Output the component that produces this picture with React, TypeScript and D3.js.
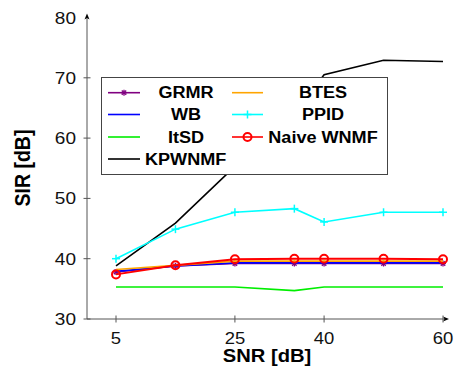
import React from "react";
import * as d3 from "d3";

const snr = [5, 15, 25, 35, 40, 50, 60];
const xTicks = [5, 25, 40, 60];
const yTicks = [30, 40, 50, 60, 70, 80];

const grmr = [37.8, 38.8, 39.2, 39.2, 39.2, 39.2, 39.2];
const wb = [37.9, 38.8, 39.3, 39.3, 39.3, 39.3, 39.3];
const itsd = [35.3, 35.3, 35.3, 34.7, 35.3, 35.3, 35.3];
const kpwnmf = [38.8, 45.9, 55.3, 64.0, 70.5, 72.9, 72.7];
const btes = [38.2, 38.9, 39.6, 39.6, 39.6, 39.6, 39.6];
const ppid = [40.0, 44.9, 47.7, 48.3, 46.1, 47.7, 47.7];
const naive = [37.4, 38.9, 39.9, 40.0, 40.0, 40.0, 39.9];

type S = { name: string; values: number[]; color: string; marker: string };
const series: S[] = [
  { name: "GRMR", values: grmr, color: "#800080", marker: "star" },
  { name: "WB", values: wb, color: "#0000ff", marker: "none" },
  { name: "ItSD", values: itsd, color: "#00ee00", marker: "none" },
  { name: "KPWNMF", values: kpwnmf, color: "#000000", marker: "none" },
  { name: "BTES", values: btes, color: "#ffa500", marker: "none" },
  { name: "PPID", values: ppid, color: "#00ffff", marker: "plus" },
  { name: "Naive WNMF", values: naive, color: "#ff0000", marker: "circle" },
];

const legendOrder = ["GRMR", "BTES", "WB", "PPID", "ItSD", "Naive WNMF", "KPWNMF"];

const Marker = ({ x, y, type, color }: { x: number; y: number; type: string; color: string }) => {
  if (type === "circle")
    return <circle cx={x} cy={y} r={4} fill="none" stroke={color} strokeWidth={2} />;
  if (type === "plus")
    return (
      <g stroke={color} strokeWidth={1.5}>
        <line x1={x - 4} y1={y} x2={x + 4} y2={y} />
        <line x1={x} y1={y - 4} x2={x} y2={y + 4} />
      </g>
    );
  if (type === "star")
    return (
      <g stroke={color} strokeWidth={1.3}>
        <line x1={x - 3} y1={y} x2={x + 3} y2={y} />
        <line x1={x} y1={y - 3} x2={x} y2={y + 3} />
        <line x1={x - 2.2} y1={y - 2.2} x2={x + 2.2} y2={y + 2.2} />
        <line x1={x - 2.2} y1={y + 2.2} x2={x + 2.2} y2={y - 2.2} />
      </g>
    );
  return null;
};

const T = ({
  x, y, size, sx = 1.13, anchor = "middle", bold = false, rot = 0, children,
}: {
  x: number; y: number; size: number; sx?: number; anchor?: string; bold?: boolean; rot?: number; children: React.ReactNode;
}) => (
  <text
    transform={`translate(${x},${y}) scale(${sx},1)${rot ? ` rotate(${rot})` : ""}`}
    textAnchor={anchor}
    fontSize={size}
    fontWeight={bold ? "bold" : "normal"}
    fill={bold ? "#000" : "#111"}
  >
    {children}
  </text>
);

export default function App() {
  const W = 456, H = 371;
  const x = d3.scaleLinear().domain([5, 60]).range([116, 443]);
  const y = d3.scaleLinear().domain([30, 80]).range([319, 17.5]);
  const axisX = 87;
  const line = d3
    .line<number>()
    .x((_, i) => x(snr[i]))
    .y((d) => y(d));
  const axisColor = "#555";
  const font = "'Liberation Sans', Arial, Helvetica, sans-serif";

  const lg = { x: 101.5, y: 77.5, w: 286, h: 97 };
  const rowY = [92.7, 114.5, 137, 159];
  const col = [
    { lx1: 108, lx2: 140, tx: 186 },
    { lx1: 232, lx2: 263, tx: 323 },
  ];

  return (
    <svg width={W} height={H} style={{ position: "absolute", left: 0, top: 0, fontFamily: font }}>
      <rect width={W} height={H} fill="#fff" />
      {/* axes */}
      <line x1={axisX} y1={319} x2={446} y2={319} stroke={axisColor} strokeWidth={1} />
      <path d={`M449,319 L443,316.5 L444.5,319 L443,321.5 Z`} fill="#000" />
      <line x1={axisX} y1={319} x2={axisX} y2={16} stroke={axisColor} strokeWidth={1} />
      <path d={`M${axisX},13.5 L${axisX - 2.5},19.5 L${axisX},18 L${axisX + 2.5},19.5 Z`} fill="#000" />
      {yTicks.map((t) => (
        <g key={t}>
          {t !== 80 && (
            <line x1={axisX - 3.5} x2={axisX + 3.5} y1={y(t)} y2={y(t)} stroke={axisColor} />
          )}
          <T x={76} y={y(t) + 6} size={17} sx={1.12} anchor="end">
            {t}
          </T>
        </g>
      ))}
      {xTicks.map((t) => (
        <g key={t}>
          <line x1={x(t)} x2={x(t)} y1={315.5} y2={322.5} stroke={axisColor} />
          <T x={x(t)} y={343.5} size={16.5} sx={1.12}>
            {t}
          </T>
        </g>
      ))}
      <T x={267} y={362} size={18} sx={1.12} bold>
        SNR [dB]
      </T>
      <T x={29.5} y={168} size={19.5} sx={1.13} bold rot={-90}>
        SIR [dB]
      </T>
      {/* series */}
      {series.map((s) => (
        <g key={s.name}>
          <path d={line(s.values) || ""} fill="none" stroke={s.color} strokeWidth={s.name === "Naive WNMF" ? 2 : 1.6} />
          {s.values.map((v, i) => (
            <Marker key={i} x={x(snr[i])} y={y(v)} type={s.marker} color={s.color} />
          ))}
        </g>
      ))}
      {/* legend */}
      <rect x={lg.x} y={lg.y} width={lg.w} height={lg.h} fill="#fff" stroke="#444" strokeWidth={1} />
      {legendOrder.map((name, k) => {
        const s = series.find((d) => d.name === name)!;
        const c = col[k % 2];
        const ry = rowY[Math.floor(k / 2)];
        const isK = name === "KPWNMF";
        return (
          <g key={name}>
            <line x1={c.lx1} x2={c.lx2} y1={ry} y2={ry} stroke={s.color} strokeWidth={1.6} />
            <Marker x={(c.lx1 + c.lx2) / 2} y={ry} type={s.marker} color={s.color} />
            <T x={isK ? 145 : c.tx} y={ry + 5.7} size={16} anchor={isK ? "start" : "middle"} bold>
              {name}
            </T>
          </g>
        );
      })}
    </svg>
  );
}
